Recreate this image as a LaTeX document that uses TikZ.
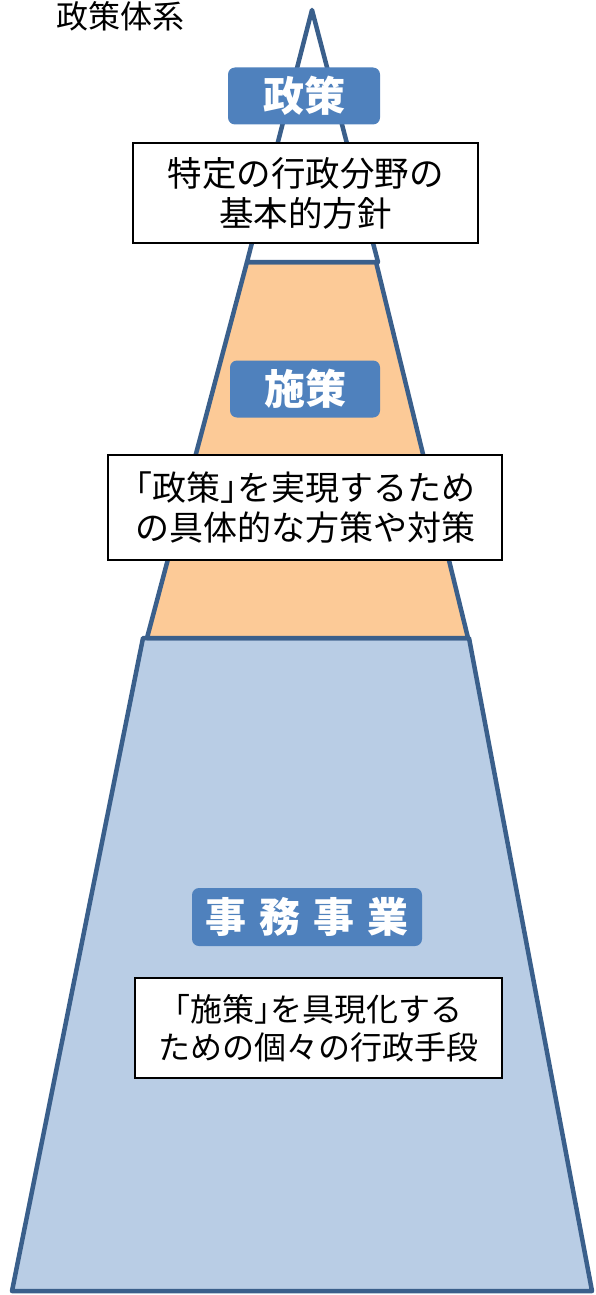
\documentclass[tikz,border=0pt]{standalone}
\usepackage{fontspec}
\setmainfont{Noto Sans CJK JP}
\begin{document}
\begin{tikzpicture}[x=1pt,y=-1pt,
  outline/.style={draw=edgeblue,line width=4.5pt,line join=round},
  tag/.style={fill=tagblue,rounded corners=7pt,text=white,font=\bfseries\fontsize{41}{44}\selectfont,inner sep=0pt,anchor=center},
  note/.style={draw=black,line width=1.6pt,fill=white,align=center,inner sep=0pt,anchor=center,font=\fontsize{34}{40}\selectfont}]
\definecolor{edgeblue}{HTML}{3A5F8B}
\definecolor{tagblue}{HTML}{4F81BD}
\definecolor{orangefill}{HTML}{FCCA97}
\definecolor{bluefill}{HTML}{B9CDE5}
\useasboundingbox (0,0) rectangle (595,1295);
% tiers
\draw[outline,fill=bluefill] (143,638) -- (469,638) -- (592,1291) -- (12,1291) -- cycle;
\draw[outline,fill=orangefill] (247,262) -- (376,262) -- (468,638) -- (147,638) -- cycle;
\draw[outline,fill=white] (312,10) -- (378,262) -- (247,262) -- cycle;
% title
\node[font=\fontsize{32}{36}\selectfont,anchor=center] (title) at (120,16) {政策体系};
% labels
\node[tag,minimum width=152pt,minimum height=57pt] (t1) at (304,96) {政策};
\node[note,minimum width=345pt,minimum height=100pt,font=\fontsize{34.5}{40}\selectfont] (n1) at (305.5,193) {特定の行政分野の\\基本的方針};
\node[tag,minimum width=150pt,minimum height=57pt] (t2) at (305,389) {施策};
\node[note,minimum width=394pt,minimum height=105pt] (n2) at (305,507.5) {｢政策｣を実現するため\\の具体的な方策や対策};
\node[tag,minimum width=230pt,minimum height=58pt] (t3) at (307,917) {事\hspace{13pt}務\hspace{13pt}事\hspace{13pt}業};
\node[note,minimum width=367pt,minimum height=100pt,font=\fontsize{32}{38}\selectfont] (n3) at (318.5,1028) {｢施策｣を具現化する\\ための個々の行政手段};
\end{tikzpicture}
\end{document}
